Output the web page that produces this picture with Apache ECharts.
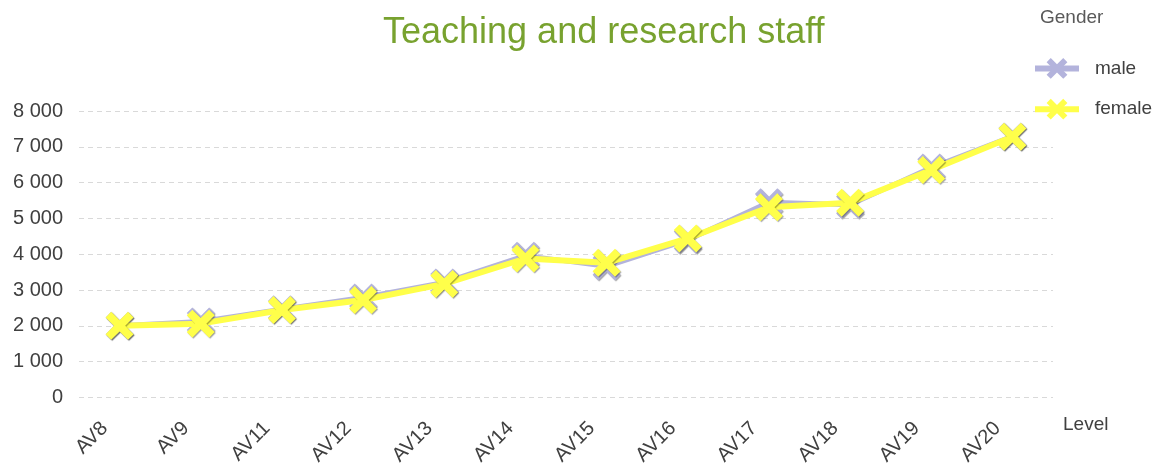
<!DOCTYPE html>
<html>
<head>
<meta charset="utf-8">
<title>Teaching and research staff</title>
<script src="https://cdn.jsdelivr.net/npm/echarts@6/dist/echarts.min.js"></script>
<style>
  html, body { margin: 0; padding: 0; background: #ffffff; }
  #chart { width: 1160px; height: 468px; }
</style>
</head>
<body>
<div id="chart"></div>
<script>
// Staff count per salary level, split by gender
const levels = ['AV8', 'AV9', 'AV11', 'AV12', 'AV13', 'AV14', 'AV15', 'AV16', 'AV17', 'AV18', 'AV19', 'AV20'];
const male   = [2000, 2120, 2460, 2790, 3210, 3960, 3660, 4400, 5450, 5380, 6420, 7290];
const female = [2000, 2060, 2440, 2720, 3170, 3880, 3760, 4440, 5310, 5440, 6350, 7280];
const seriesNames = ['male', 'female'];

// Thick "X" marker outline (100 x 100 box)
const crossPath = 'path://M0,20 L20,0 L50,30 L80,0 L100,20 L70,50 L100,80 L80,100 L50,70 L20,100 L0,80 L30,50 Z';

const fontFamily = '"Liberation Sans", Arial, sans-serif';
const textColor = '#404040';

function thousands(v) {
  return String(v).replace(/\B(?=(\d{3})+(?!\d))/g, ' ');
}

function lineSeries(name, values, color, width) {
  return {
    name: name,
    type: 'line',
    data: values,
    symbol: crossPath,
    symbolSize: 28,
    showAllSymbol: true,
    lineStyle: { color: color, width: width },
    itemStyle: {
      color: color,
      shadowColor: 'rgba(0,0,0,0.35)',
      shadowBlur: 1,
      shadowOffsetX: 1,
      shadowOffsetY: 1
    },
    emphasis: { disabled: true },
    z: name === 'female' ? 3 : 2
  };
}

const chart = echarts.init(document.getElementById('chart'), null, { renderer: 'canvas' });

chart.setOption({
  animation: false,
  backgroundColor: '#ffffff',
  title: [
    {
      text: 'Teaching and research staff',
      left: 378,
      top: 10,
      textStyle: { color: '#78a22f', fontSize: 36, fontWeight: 'normal', fontFamily: fontFamily }
    },
    {
      text: 'Gender',
      left: 1035,
      top: 3,
      textStyle: { color: '#595959', fontSize: 19, fontWeight: 'normal', fontFamily: fontFamily }
    }
  ],
  legend: {
    data: seriesNames,
    orient: 'vertical',
    left: 1027,
    top: 53,
    itemWidth: 44,
    itemHeight: 26,
    itemGap: 20,
    lineStyle: { width: 6 },
    textStyle: { color: textColor, fontSize: 19, fontFamily: fontFamily, padding: [0, 0, 0, 11] }
  },
  grid: { left: 79, right: 107, top: 111, bottom: 67, containLabel: false },
  xAxis: {
    type: 'category',
    data: levels,
    boundaryGap: true,
    name: 'Level',
    nameLocation: 'end',
    nameGap: 10,
    nameTextStyle: { color: textColor, fontSize: 19, fontFamily: fontFamily, verticalAlign: 'top', padding: [18, 0, 0, 0] },
    axisLine: { show: false },
    axisTick: { show: false },
    axisLabel: { color: textColor, fontSize: 20, fontFamily: fontFamily, rotate: 45, margin: 13, interval: 0, padding: [0, 21, 0, 0] }
  },
  yAxis: {
    type: 'value',
    min: 0,
    max: 8000,
    interval: 1000,
    axisLine: { show: false },
    axisTick: { show: false },
    axisLabel: { color: textColor, fontSize: 20, fontFamily: fontFamily, margin: 16, formatter: thousands },
    splitLine: { lineStyle: { color: '#d9d9d9', type: [5, 4], width: 1 } }
  },
  series: [
    lineSeries('male', male, '#b3b3dc', 5),
    lineSeries('female', female, '#ffff4a', 6)
  ]
});
</script>
</body>
</html>
